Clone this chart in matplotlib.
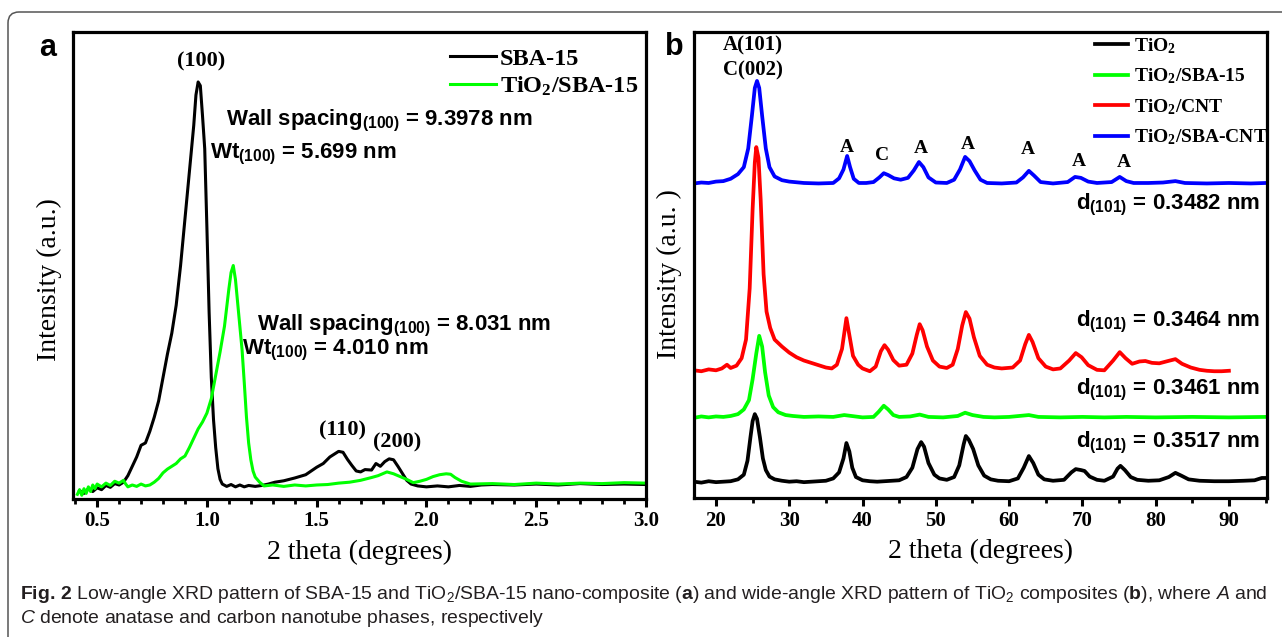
import matplotlib
matplotlib.use("Agg")
import numpy as np
import matplotlib.pyplot as plt
from matplotlib import font_manager
from matplotlib.patches import FancyBboxPatch
from matplotlib.ticker import MultipleLocator, FormatStrFormatter
from matplotlib.transforms import IdentityTransform

# ---------------- data: (a) low-angle XRD ----------------
sba15_x = [0.42, 0.44, 0.46, 0.48, 0.50, 0.52, 0.54, 0.56, 0.58, 0.60, 0.62, 0.64, 0.66, 0.68,
           0.70, 0.72, 0.74, 0.76, 0.78, 0.80, 0.82, 0.84, 0.86, 0.88, 0.90, 0.92, 0.93, 0.94,
           0.95, 0.96, 0.97, 0.98, 0.99, 1.00, 1.01, 1.02, 1.03, 1.04, 1.05, 1.06, 1.07, 1.09,
           1.11, 1.13, 1.15, 1.17, 1.19, 1.22, 1.25, 1.28, 1.31, 1.35, 1.40, 1.45, 1.50, 1.53,
           1.56, 1.58, 1.60, 1.62, 1.64, 1.66, 1.68, 1.70, 1.72, 1.75, 1.77, 1.79, 1.81, 1.83,
           1.85, 1.87, 1.89, 1.91, 1.93, 1.96, 2.00, 2.05, 2.10, 2.15, 2.20, 2.25, 2.30, 2.40,
           2.50, 2.60, 2.70, 2.80, 2.90, 3.00]
sba15_y = [1.8, 1.2, 2.2, 1.6, 2.4, 2.0, 2.9, 2.5, 3.3, 3.0, 3.6, 5.0, 7.0, 9.0,
           11.5, 12.0, 14.5, 17.5, 21.0, 26.0, 31.0, 35.5, 41.5, 50.0, 60.0, 70.0, 75.0, 80.0,
           86.5, 89.3, 88.5, 82.0, 75.0, 58.0, 40.0, 26.0, 17.0, 11.0, 6.5, 4.2, 3.2, 2.7,
           3.1, 2.6, 3.0, 2.6, 2.9, 2.7, 2.9, 3.2, 3.6, 3.9, 4.5, 5.2, 6.8, 7.6,
           9.0, 9.6, 10.2, 10.0, 8.5, 7.2, 6.0, 5.8, 6.3, 6.2, 7.6, 7.0, 8.0, 8.6,
           8.4, 7.0, 5.5, 4.0, 3.2, 2.8, 2.6, 2.8, 2.6, 2.9, 2.7, 3.0, 3.1, 3.0,
           3.2, 3.0, 3.3, 3.1, 3.2, 3.1]

tio2_sba15_a_x = [0.41, 0.42, 0.43, 0.44, 0.45, 0.46, 0.47, 0.48, 0.49, 0.50, 0.52, 0.54, 0.56,
                  0.58, 0.60, 0.62, 0.63, 0.64, 0.66, 0.68, 0.70, 0.72, 0.74, 0.76, 0.78, 0.80,
                  0.82, 0.84, 0.86, 0.88, 0.90, 0.92, 0.94, 0.96, 0.98, 1.00, 1.02, 1.04, 1.06,
                  1.08, 1.10, 1.11, 1.12, 1.13, 1.14, 1.15, 1.16, 1.17, 1.18, 1.19, 1.20, 1.21,
                  1.22, 1.24, 1.26, 1.30, 1.35, 1.40, 1.45, 1.50, 1.55, 1.60, 1.65, 1.70, 1.75,
                  1.78, 1.82, 1.85, 1.88, 1.91, 1.94, 1.97, 2.00, 2.03, 2.06, 2.09, 2.11, 2.13,
                  2.16, 2.20, 2.30, 2.40, 2.50, 2.60, 2.70, 2.80, 2.90, 3.00]
tio2_sba15_a_y = [1.0, 2.0, 0.8, 2.2, 1.2, 2.6, 1.6, 3.0, 2.2, 3.2, 2.6, 3.4, 2.9,
                  3.8, 3.4, 4.0, 3.2, 2.6, 3.0, 2.7, 3.2, 2.8, 3.0, 3.6, 4.4, 5.6,
                  6.4, 7.0, 7.6, 8.6, 9.2, 11.0, 13.0, 15.0, 16.5, 18.4, 21.5, 26.5, 31.5,
                  37.0, 45.0, 48.5, 50.0, 47.0, 42.0, 37.0, 32.0, 25.0, 17.6, 12.0, 8.4, 6.0,
                  4.7, 3.6, 2.8, 3.0, 2.7, 3.0, 2.8, 3.0, 3.1, 3.4, 3.6, 4.0, 4.6,
                  5.0, 5.8, 5.4, 4.8, 4.2, 3.5, 3.8, 4.2, 4.8, 5.2, 5.4, 5.3, 4.6,
                  3.8, 3.2, 3.3, 3.1, 3.4, 3.2, 3.4, 3.3, 3.5, 3.4]

# ---------------- data: (b) wide-angle XRD ----------------
tio2_x = [17, 18, 19, 20, 21, 22, 23, 23.8, 24.3, 24.7, 25.0, 25.3, 25.6, 26.0, 26.4, 26.8, 27.3,
          28, 29, 30, 31, 32, 33, 34, 35, 36, 36.8, 37.4, 37.8, 38.2, 38.6, 39.1, 40, 41, 42,
          43, 44, 45, 46, 46.8, 47.5, 48.0, 48.4, 49.0, 49.8, 50.5, 51.5, 52.5, 53.2, 53.8, 54.1,
          54.5, 55.1, 55.8, 56.6, 57.5, 58.5, 60, 61.2, 62.0, 62.7, 63.3, 64.0, 64.8, 66, 67.5,
          68.5, 69.1, 69.8, 70.3, 71, 72, 73, 74.2, 74.8, 75.2, 75.8, 76.6, 77.5, 79, 80.5, 81.8,
          82.7, 83.5, 84.5, 86, 88, 90, 92, 93.5, 94.5, 95]
tio2_y = [3.5, 3.3, 3.6, 3.4, 3.5, 3.6, 4.0, 5.0, 8.0, 13.0, 16.5, 18.0, 17.0, 13.0, 8.5, 6.0, 4.6,
          4.0, 3.7, 3.5, 3.6, 3.4, 3.5, 3.6, 3.7, 4.2, 5.5, 8.5, 11.8, 10.0, 6.5, 4.5, 3.8, 3.6, 3.5,
          3.6, 3.7, 3.8, 4.5, 6.5, 10.5, 12.0, 11.0, 7.5, 5.0, 4.2, 3.9, 4.5, 7.0, 11.5, 13.3,
          12.5, 10.5, 7.0, 4.8, 4.0, 3.7, 3.6, 4.2, 6.5, 9.0, 7.5, 5.0, 4.0, 3.7, 3.9,
          5.5, 6.2, 6.0, 5.8, 4.6, 3.9, 3.7, 4.6, 6.3, 6.9, 6.0, 4.5, 3.9, 3.7, 3.8, 4.5,
          5.4, 4.8, 4.0, 3.7, 3.6, 3.6, 3.7, 3.8, 4.3, 4.3]

tio2_sba15_x = [17, 18, 19, 20, 21, 22, 23, 23.8, 24.5, 25.0, 25.5, 25.9, 26.3, 26.7, 27.2, 27.8,
                28.5, 29.5, 30.5, 32, 34, 36, 37.5, 38.5, 40, 41.5, 42.2, 42.9, 43.5, 44.2, 45,
                46.5, 47.8, 49, 51, 53, 54, 55, 56.5, 58, 60, 62.7, 64, 67, 70, 73, 76, 80, 85,
                90, 95]
tio2_sba15_y = [17.2, 17.5, 17.3, 17.5, 17.4, 17.6, 18.0, 19.0, 21.0, 25.5, 31.0, 34.8, 32.5, 27.0,
                22.0, 19.5, 18.4, 17.8, 17.6, 17.4, 17.5, 17.4, 17.8, 17.6, 17.3, 17.4, 18.5, 19.8,
                19.0, 17.8, 17.4, 17.5, 17.9, 17.4, 17.3, 17.6, 18.3, 17.8, 17.4, 17.3, 17.4, 17.8,
                17.4, 17.3, 17.4, 17.3, 17.4, 17.3, 17.4, 17.3, 17.4]

tio2_cnt_x = [17, 18, 19, 20, 20.8, 21.5, 22, 22.8, 23.5, 24.1, 24.6, 25.0, 25.3, 25.5, 25.8, 26.1,
              26.5, 26.9, 27.4, 28, 29, 30, 31, 32, 33, 34, 35, 35.8, 36.5, 37.2, 37.8, 38.2,
              38.7, 39.4, 40, 41, 41.8, 42.5, 43.0, 43.5, 44.2, 45, 46, 46.8, 47.4, 47.8, 48.2,
              48.8, 49.6, 50.5, 51.5, 52.3, 53.0, 53.6, 54.1, 54.6, 55.2, 56.0, 57, 58, 59, 60.5,
              61.5, 62.2, 62.7, 63.2, 64, 65, 66, 67, 68.2, 69.1, 69.9, 70.8, 72, 73, 74.2, 75.1,
              75.9, 76.8, 77.8, 78.6, 79.5, 80.5, 81.7, 82.7, 83.6, 84.8, 86, 87, 88, 89, 90]
tio2_cnt_y = [27.4, 27.2, 27.6, 27.4, 27.8, 28.6, 27.9, 28.4, 30.0, 34.0, 45.0, 62.0, 72.0, 75.3,
              73.0, 64.0, 48.0, 40.0, 36.5, 34.0, 32.5, 31.2, 30.2, 29.5, 29.0, 28.5, 28.0, 27.8,
              28.6, 32.0, 38.6, 35.0, 30.5, 28.6, 27.8, 27.2, 28.2, 31.5, 32.8, 31.8, 29.6, 28.4,
              28.6, 31.0, 35.0, 37.3, 36.0, 32.5, 29.5, 28.2, 27.9, 28.6, 32.0, 37.0, 39.9, 38.5,
              34.5, 30.5, 28.6, 28.0, 27.8, 28.0, 29.5, 33.0, 35.0, 33.5, 30.0, 28.2, 27.6, 27.8,
              29.5, 31.1, 30.2, 28.5, 27.5, 27.4, 29.5, 31.3, 30.0, 28.8, 29.3, 29.4, 29.0, 28.9,
              29.4, 29.8, 28.8, 28.0, 27.5, 27.3, 27.2, 27.2, 27.3]

tio2_sba_cnt_x = [17, 18, 19, 20, 21, 22, 23, 23.8, 24.4, 24.9, 25.3, 25.6, 25.9, 26.3, 26.8, 27.3,
                  28, 29, 30, 32, 34, 36, 36.8, 37.4, 37.9, 38.3, 38.8, 39.5, 40.5, 41.5, 42.3,
                  42.9, 43.5, 44.3, 45.2, 46.2, 47.0, 47.7, 48.3, 49, 50, 51.5, 52.5, 53.3, 54.0,
                  54.6, 55.3, 56.1, 57, 59, 61, 61.9, 62.7, 63.4, 64.3, 66, 68, 69.0, 69.8, 70.8,
                  72, 74, 75.1, 76, 77, 79, 81, 82.7, 84, 87, 90, 93, 95]
tio2_sba_cnt_y = [67.5, 67.7, 67.6, 67.9, 68.0, 68.5, 69.5, 71.0, 75.0, 82.0, 88.0, 89.5, 88.0,
                  82.0, 75.0, 71.0, 69.0, 68.2, 67.9, 67.6, 67.5, 67.6, 68.6, 70.5, 73.4, 71.0,
                  68.5, 67.6, 67.6, 67.8, 68.8, 69.7, 69.3, 68.6, 68.3, 68.7, 70.3, 72.1, 71.0,
                  68.8, 67.7, 67.6, 68.3, 70.5, 73.2, 72.3, 70.3, 68.3, 67.6, 67.5, 67.7, 68.8,
                  70.2, 69.2, 67.8, 67.5, 67.8, 68.9, 68.7, 67.9, 67.6, 67.8, 68.9, 68.0, 67.6,
                  67.6, 67.7, 68.0, 67.6, 67.5, 67.6, 67.5, 67.6]

# peak labels and d-spacings
low_peaks = ["(100)", "(110)", "(200)"]
low_peak_pos = [(0.972, 93.6), (1.617, 14.6), (1.867, 12.0)]
wall_texts = [r"Wall spacing$_{(100)}$ = 9.3978 nm", r"Wt$_{(100)}$ = 5.699 nm",
              r"Wall spacing$_{(100)}$ = 8.031 nm", r"Wt$_{(100)}$ = 4.010 nm"]
wall_pos = [(1.085, 80.9), (1.013, 73.7), (1.226, 37.0), (1.158, 31.9)]
phase_labels = ["A", "C", "A", "A", "A", "A", "A"]
phase_pos = [(37.9, 75.3), (42.7, 73.4), (48.0, 75.1), (54.4, 75.8), (62.5, 74.7), (69.5, 72.3), (75.6, 72.1)]
d_texts = [r"d$_{(101)}$ = 0.3482 nm", r"d$_{(101)}$ = 0.3464 nm",
           r"d$_{(101)}$ = 0.3461 nm", r"d$_{(101)}$ = 0.3517 nm"]
d_pos = [(94.3, 62.9), (94.3, 37.8), (94.3, 23.2), (94.3, 11.8)]

W, H = 1282, 637
names = {f.name for f in font_manager.fontManager.ttflist}
narrow = "Liberation Sans Narrow" if "Liberation Sans Narrow" in names else "Liberation Sans"
ann_size = 19.5 if narrow == "Liberation Sans Narrow" else 16

plt.rcParams["font.family"] = ["Liberation Serif", "DejaVu Serif"]
plt.rcParams["mathtext.default"] = "regular"
plt.rcParams["mathtext.fontset"] = "custom"
plt.rcParams["mathtext.rm"] = narrow
plt.rcParams["mathtext.it"] = narrow + ":italic"
plt.rcParams["mathtext.bf"] = narrow + ":bold"

fig = plt.figure(figsize=(W / 100, H / 100), dpi=100)

# outer rounded frame (cut by the page edges)
frame = FancyBboxPatch((8, -30), 1320, H - 12 + 30, boxstyle="round,pad=0,rounding_size=11",
                       transform=IdentityTransform(), fill=False, edgecolor="#555555", linewidth=1.1)
fig.patches.append(frame)

ax_a = fig.add_axes([73 / W, 1 - 499 / H, 573 / W, 467 / H])
ax_b = fig.add_axes([694 / W, 1 - 498 / H, 573 / W, 466 / H])

tick_font = dict(family="Liberation Serif", weight="bold", size=15)
for ax in (ax_a, ax_b):
    for sp in ax.spines.values():
        sp.set_linewidth(2.3)
    ax.set_yticks([])
    ax.tick_params(axis="x", which="major", direction="out", length=6, width=2.2, pad=3)
    ax.tick_params(axis="x", which="minor", direction="out", length=3.8, width=2.0)
    ax.set_ylim(0, 100)
    ax.set_xlabel("2 theta (degrees)", fontsize=20, labelpad=6)

# ---- panel a ----
ax_a.plot(sba15_x, sba15_y, color="black", lw=2.2, label="SBA-15")
ax_a.plot(tio2_sba15_a_x, tio2_sba15_a_y, color="#00ff00", lw=2.2, label="TiO$_2$/SBA-15")
ax_a.set_xlim(0.39, 3.0)
ax_a.xaxis.set_major_locator(MultipleLocator(0.5))
ax_a.xaxis.set_minor_locator(MultipleLocator(0.1))
ax_a.xaxis.set_major_formatter(FormatStrFormatter("%.1f"))
ax_a.set_ylabel("Intensity (a.u.)", fontsize=20)
ax_a.yaxis.set_label_coords(-0.019, 0.47)
ax_a.legend(loc="upper left", bbox_to_anchor=(0.658, 0.966), frameon=False,
            prop=dict(family="Liberation Serif", weight="bold", size=17.5),
            handlelength=1.9, handletextpad=0.15, labelspacing=0.2, borderpad=0, borderaxespad=0)
for txt, (x, y) in zip(low_peaks, low_peak_pos):
    ax_a.text(x, y, txt, ha="center", va="center", fontsize=16, fontweight="bold")
for txt, (x, y) in zip(wall_texts, wall_pos):
    ax_a.text(x, y, txt, ha="left", va="center", family=narrow, fontsize=ann_size, fontweight="bold")

# ---- panel b ----
ax_b.plot(tio2_x, tio2_y, color="black", lw=2.7, label="TiO$_2$")
ax_b.plot(tio2_sba15_x, tio2_sba15_y, color="#00ff00", lw=2.7, label="TiO$_2$/SBA-15")
ax_b.plot(tio2_cnt_x, tio2_cnt_y, color="red", lw=2.7, label="TiO$_2$/CNT")
ax_b.plot(tio2_sba_cnt_x, tio2_sba_cnt_y, color="blue", lw=2.7, label="TiO$_2$/SBA-CNT")
ax_b.set_xlim(17, 95.2)
ax_b.xaxis.set_major_locator(MultipleLocator(10))
ax_b.xaxis.set_minor_locator(MultipleLocator(5))
ax_b.set_ylabel("Intensity (a.u. )", fontsize=20)
ax_b.yaxis.set_label_coords(-0.021, 0.48)
ax_b.legend(loc="upper left", bbox_to_anchor=(0.700, 0.991), frameon=False,
            prop=dict(family="Liberation Serif", weight="bold", size=14),
            handlelength=1.7, handletextpad=0.3, labelspacing=0.55, borderpad=0, borderaxespad=0)
ax_b.text(25.0, 97.2, "A(101)", ha="center", va="center", fontsize=15, fontweight="bold")
ax_b.text(25.0, 91.8, "C(002)", ha="center", va="center", fontsize=15, fontweight="bold")
for txt, (x, y) in zip(phase_labels, phase_pos):
    ax_b.text(x, y, txt, ha="center", va="center", fontsize=14, fontweight="bold")
for txt, (x, y) in zip(d_texts, d_pos):
    ax_b.text(x, y, txt, ha="right", va="center", family=narrow, fontsize=ann_size, fontweight="bold")

for ax in (ax_a, ax_b):
    for lab in ax.get_xticklabels():
        lab.set(**tick_font)

# panel letters
fig.text(48 / W, 1 - 48 / H, "a", ha="center", va="center", family="Liberation Sans", fontsize=22, fontweight="bold")
fig.text(674 / W, 1 - 47 / H, "b", ha="center", va="center", family="Liberation Sans", fontsize=22, fontweight="bold")

# caption
cap_font = dict(family=narrow, color="#231f20", fontsize=12)
cap1 = fig.text(20 / W, 1 - 599 / H,
                r"$\mathbf{Fig.\,2}$ Low-angle XRD pattern of SBA-15 and TiO$_2$/SBA-15 nano-composite ($\mathbf{a}$)"
                r" and wide-angle XRD pattern of TiO$_2$ composites ($\mathbf{b}$), where $\mathit{A}$ and",
                ha="left", va="baseline", **cap_font)
cap2 = fig.text(20 / W, 1 - 623 / H, r"$\mathit{C}$ denote anatase and carbon nanotube phases, respectively",
                ha="left", va="baseline", **cap_font)
fig.canvas.draw()
scale = 1245 / cap1.get_window_extent(fig.canvas.get_renderer()).width
for t in (cap1, cap2):
    t.set_fontsize(t.get_fontsize() * scale)

fig.savefig("out.png", dpi=100)
